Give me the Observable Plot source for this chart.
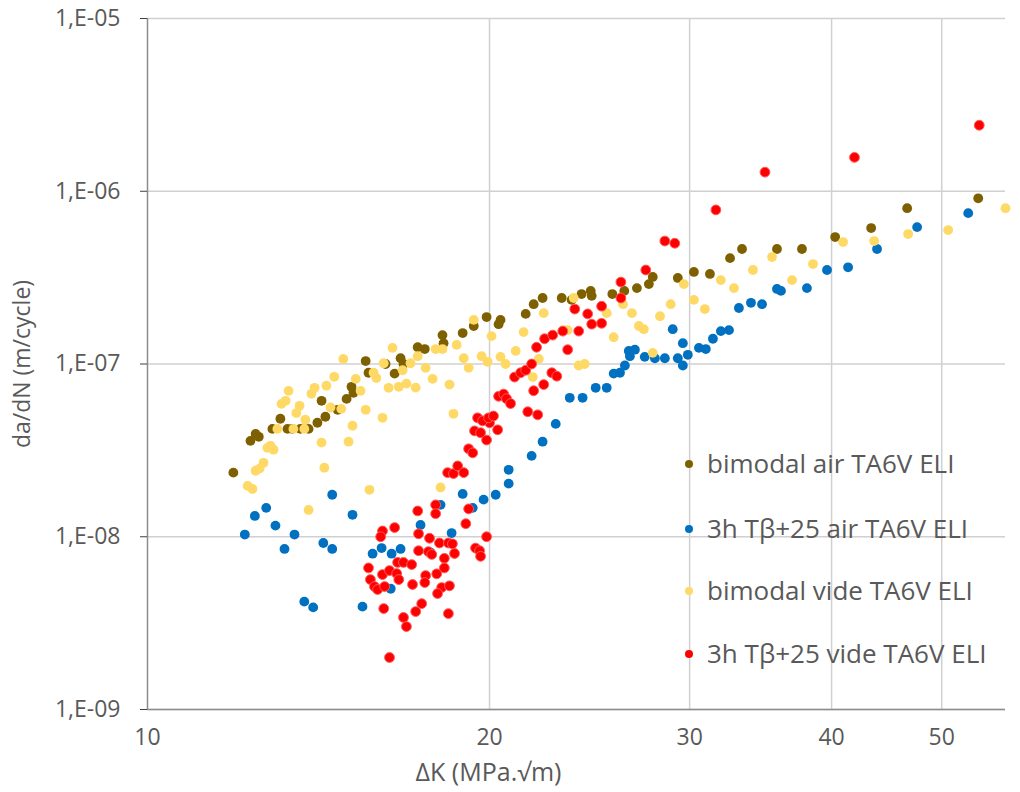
<!DOCTYPE html>
<html>
<head>
<meta charset="utf-8">
<script src="https://cdn.jsdelivr.net/npm/d3@7"></script>
<script src="https://cdn.jsdelivr.net/npm/@observablehq/plot@0.6"></script>
<style>
  html, body { margin: 0; padding: 0; background: #ffffff; }
  #wrap { position: relative; width: 1020px; height: 792px; font-family: "Open Sans", sans-serif; }
  .leg { position: absolute; left: 685px; height: 36px; line-height: 36px; font-size: 26px; color: #595959; white-space: nowrap; }
  .leg span.dot { display: inline-block; width: 8px; height: 8px; border-radius: 50%; margin-right: 14px; vertical-align: middle; position: relative; top: -2px; }
</style>
</head>
<body>
<div id="wrap"></div>
<script>
// ---- data (ΔK in MPa.√m, da/dN in m/cycle) ----
const seriesNames = ["bimodal air TA6V ELI", "3h Tβ+25 air TA6V ELI", "bimodal vide TA6V ELI", "3h Tβ+25 vide TA6V ELI"];
const seriesColors = ["#7f6000", "#0070c0", "#ffd966", "#ff0000"];

const bimodalAirK = [11.90,12.32,12.45,12.53,12.88,13.09,13.28,13.41,13.63,13.86,14.11,14.23,14.34,14.70,14.97,15.12,15.18,15.56,15.65,16.20,16.50,16.70,16.80,17.29,17.54,18.18,18.22,18.94,19.37,19.88,20.37,20.45,21.52,21.87,22.27,23.15,23.62,24.10,24.55,24.60,25.65,26.28,26.96,27.62,27.84,29.29,30.26,31.26,32.56,33.36,35.81,37.67,40.29,43.34,46.62,53.84];
const bimodalAirRate = [2.35e-8,3.59e-8,3.94e-8,3.79e-8,4.21e-8,4.82e-8,4.21e-8,4.21e-8,4.21e-8,4.21e-8,4.57e-8,6.12e-8,4.95e-8,5.43e-8,6.28e-8,7.38e-8,6.81e-8,1.04e-7,8.9e-8,1.00e-7,8.8e-8,1.08e-7,1.00e-7,1.25e-7,1.22e-7,1.47e-7,1.32e-7,1.51e-7,1.66e-7,1.87e-7,1.70e-7,1.80e-7,1.95e-7,2.22e-7,2.41e-7,2.41e-7,2.35e-7,2.54e-7,2.65e-7,2.48e-7,2.54e-7,2.65e-7,2.75e-7,2.90e-7,3.19e-7,3.15e-7,3.41e-7,3.32e-7,4.10e-7,4.63e-7,4.63e-7,4.63e-7,5.43e-7,6.12e-7,7.98e-7,9.1e-7];

const betaAirK = [12.18,12.43,12.72,12.96,13.20,13.47,13.74,13.99,14.28,14.54,14.54,15.15,15.46,15.78,16.07,16.40,16.70,16.37,17.39,17.75,18.11,18.52,18.94,19.33,19.76,20.25,20.79,20.79,21.78,22.27,22.87,23.53,24.15,24.80,25.36,25.72,26.05,26.31,26.52,26.85,26.58,27.39,27.96,28.53,28.99,29.29,29.59,29.89,29.59,30.57,31.00,31.45,31.96,32.49,33.15,33.97,34.74,35.81,36.10,38.05,39.63,41.36,43.86,47.57,52.76];
const betaAirRate = [1.03e-8,1.32e-8,1.47e-8,1.16e-8,8.5e-9,1.03e-8,4.21e-9,3.9e-9,9.2e-9,8.5e-9,1.75e-8,1.34e-8,3.94e-9,7.98e-9,8.6e-9,7.98e-9,8.5e-9,5.0e-9,1.17e-8,8.1e-9,1.53e-8,1.05e-8,1.77e-8,1.47e-8,1.64e-8,1.75e-8,2.44e-8,2.03e-8,2.94e-8,3.55e-8,4.5e-8,6.37e-8,6.37e-8,7.28e-8,7.28e-8,8.8e-8,8.9e-8,9.8e-8,1.19e-7,1.21e-7,1.11e-7,1.10e-7,1.08e-7,1.08e-7,1.59e-7,1.08e-7,9.8e-8,1.13e-7,1.32e-7,1.24e-7,1.22e-7,1.40e-7,1.55e-7,1.57e-7,2.11e-7,2.26e-7,2.22e-7,2.72e-7,2.65e-7,2.75e-7,3.5e-7,3.63e-7,4.63e-7,6.2e-7,7.47e-7];

const bimodalVacK = [12.25,12.37,12.45,12.55,12.65,12.75,12.83,12.91,13.01,13.12,13.23,13.31,13.44,13.52,13.61,13.74,13.77,13.86,13.94,14.03,14.23,14.31,14.37,14.49,14.60,14.81,14.87,15.03,15.15,15.25,15.40,15.56,15.68,15.81,15.90,16.10,16.14,16.30,16.43,16.64,16.77,16.90,17.04,17.22,17.29,17.57,17.82,17.93,18.18,18.44,18.59,18.71,18.98,19.17,19.37,19.68,19.92,20.08,20.45,20.66,21.09,21.43,21.83,22.10,22.32,23.20,23.43,23.72,23.96,24.25,25.05,25.36,25.72,26.21,26.69,27.07,27.34,27.84,28.25,28.87,29.65,30.26,30.94,31.96,32.82,34.11,35.45,36.92,38.52,40.94,43.60,46.71,50.66,56.9,18.11];
const bimodalVacRate = [1.97e-8,1.89e-8,2.41e-8,2.48e-8,2.68e-8,3.27e-8,3.36e-8,3.19e-8,4.21e-8,5.88e-8,6.12e-8,6.99e-8,4.21e-8,5.2e-8,5.73e-8,4.21e-8,4.76e-8,1.43e-8,6.72e-8,7.28e-8,3.51e-8,2.51e-8,7.49e-8,5.6e-8,8.43e-8,5.5e-8,1.07e-7,3.55e-8,4.39e-8,8.2e-8,6.99e-8,5.43e-8,1.87e-8,8.9e-8,8.3e-8,4.88e-8,1.01e-7,7.28e-8,1.24e-7,7.38e-8,9.2e-8,7.7e-8,1.01e-7,7.3e-8,1.11e-7,9.5e-8,8.2e-8,1.22e-7,1.22e-7,7.6e-8,5.15e-8,1.29e-7,1.08e-7,9.5e-8,1.80e-7,1.11e-7,1.03e-7,1.45e-7,1.10e-7,1.00e-7,1.19e-7,1.53e-7,8.4e-8,1.07e-7,1.97e-7,1.57e-7,1.57e-7,2.41e-7,9.8e-8,1.00e-7,1.72e-7,1.97e-7,1.43e-7,2.22e-7,1.97e-7,1.66e-7,1.59e-7,1.16e-7,1.89e-7,2.22e-7,2.90e-7,2.35e-7,2.08e-7,3.06e-7,2.75e-7,3.5e-7,4.16e-7,3.06e-7,3.79e-7,5.08e-7,5.15e-7,5.65e-7,5.96e-7,7.98e-7,1.93e-8];

const betaVacK = [16.33,15.65,15.71,15.84,15.94,16.17,16.10,16.33,16.57,16.60,16.80,17.08,16.64,17.11,16.14,16.80,16.90,17.22,17.43,17.29,16.50,16.10,16.04,17.32,17.32,17.67,17.79,17.71,17.93,17.93,18.07,18.40,18.55,18.63,18.25,18.25,17.97,17.57,17.54,18.15,18.00,18.44,18.40,19.06,19.17,19.44,19.60,19.64,19.88,18.37,18.59,18.75,18.98,19.17,19.33,19.88,19.40,19.64,20.00,20.33,19.52,19.72,19.96,20.16,20.37,20.58,20.70,20.87,21.04,21.30,21.52,21.78,21.61,22.05,21.87,22.32,22.69,22.92,22.00,22.36,22.73,23.20,23.43,23.96,23.77,24.40,24.60,25.10,25.10,26.10,26.10,27.45,28.53,29.11,31.64,34.95,41.9,53.95];
const betaVacRate = [2.0e-9,6.6e-9,5.65e-9,5.15e-9,4.95e-9,5.15e-9,6.04e-9,6.37e-9,6.12e-9,7.1e-9,7.1e-9,6.9e-9,5.65e-9,5.29e-9,3.84e-9,3.41e-9,3.02e-9,3.69e-9,4.1e-9,1.41e-8,1.13e-8,1.08e-8,1.00e-8,1.04e-8,8.3e-9,8.2e-9,7.9e-9,9.8e-9,1.53e-8,1.36e-8,9.2e-9,9.2e-9,9.1e-9,8.0e-9,7.5e-9,6.6e-9,6.1e-9,5.96e-9,5.43e-9,5.08e-9,4.69e-9,5.2e-9,3.59e-9,1.19e-8,1.45e-8,8.6e-9,8.3e-9,7.7e-9,1.00e-8,2.35e-8,2.32e-8,2.57e-8,2.35e-8,3.23e-8,3.06e-8,3.63e-8,4.1e-8,4.0e-8,4.57e-8,4.16e-8,4.88e-8,4.69e-8,4.88e-8,5.0e-8,6.5e-8,6.7e-8,6.3e-8,5.9e-8,8.4e-8,8.9e-8,9.2e-8,1.00e-7,5.29e-8,5.08e-8,7.0e-8,7.6e-8,8.9e-8,8.5e-8,1.25e-7,1.40e-7,1.47e-7,1.55e-7,1.21e-7,1.55e-7,2.08e-7,1.95e-7,1.70e-7,1.72e-7,2.16e-7,2.41e-7,2.98e-7,3.5e-7,5.15e-7,5.0e-7,7.8e-7,1.29e-6,1.57e-6,2.41e-6];

const xTicks = [10, 20, 30, 40, 50];
const xGrid = [20, 30, 40, 50];
const yTicks = [1e-9, 1e-8, 1e-7, 1e-6, 1e-5];
const xTitle = "ΔK (MPa.√m)";
const yTitle = "da/dN (m/cycle)";

function pts(K, R) { return K.map((k, i) => ({k, r: R[i]})); }
const series = [
  pts(bimodalAirK, bimodalAirRate),
  pts(betaAirK, betaAirRate),
  pts(bimodalVacK, bimodalVacRate),
  pts(betaVacK, betaVacRate)
];

const yFmt = d => "1,E-" + String(-Math.round(Math.log10(d))).padStart(2, "0");

const chart = Plot.plot({
  width: 1020,
  height: 792,
  marginLeft: 147,
  marginRight: 15,
  marginTop: 18,
  marginBottom: 83,
  style: {fontFamily: "'Open Sans', sans-serif", fontSize: "23px", color: "#595959", background: "#ffffff", overflow: "visible"},
  x: {type: "log", domain: [10, 56.9]},
  y: {type: "log", domain: [1e-9, 1e-5]},
  marks: [
    Plot.ruleX(xGrid, {stroke: "#d0d0d0", strokeWidth: 1.5}),
    Plot.ruleY(yTicks, {stroke: "#d0d0d0", strokeWidth: 1.5}),
    Plot.ruleX([10], {stroke: "#8c8c8c", strokeWidth: 1.5}),
    Plot.ruleY([1e-9], {stroke: "#8c8c8c", strokeWidth: 1.5}),
    Plot.axisY(yTicks, {tickFormat: yFmt, tickSize: 7, tickPadding: 20, stroke: "#404040", fill: "#595959", label: null}),
    Plot.axisX(xTicks, {tickFormat: d => String(d), tickSize: 0, tickPadding: 19, fill: "#595959", label: null}),
    ...series.map((s, i) => Plot.dot(s, {x: "k", y: "r", r: 4.9, fill: seriesColors[i], stroke: i === 3 ? "#ff5a5a" : "none", strokeWidth: 1})),
    Plot.text([yTitle], {frameAnchor: "left", textAnchor: "middle", dx: -125, rotate: -90, fontSize: 23, fill: "#595959"}),
    Plot.text([xTitle], {frameAnchor: "bottom", textAnchor: "middle", dx: -88, dy: 71, fontSize: 25, fill: "#595959"})
  ]
});

const wrap = document.getElementById("wrap");
wrap.appendChild(chart);

const legendY = [463, 528, 590, 653];
seriesNames.forEach((name, i) => {
  const row = document.createElement("div");
  row.className = "leg";
  row.style.top = (legendY[i] - 18) + "px";
  const dot = document.createElement("span");
  dot.className = "dot";
  dot.style.background = seriesColors[i];
  row.appendChild(dot);
  row.appendChild(document.createTextNode(name));
  wrap.appendChild(row);
});
</script>
</body>
</html>
